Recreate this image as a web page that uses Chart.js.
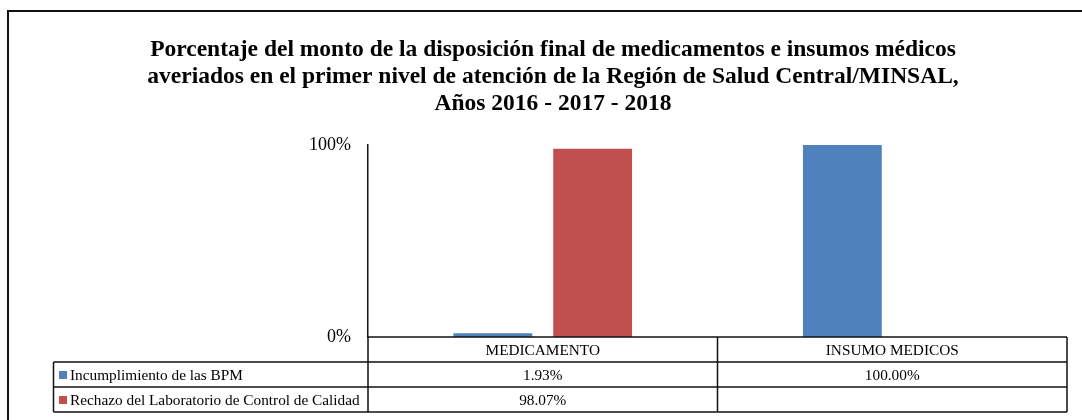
<!DOCTYPE html>
<html>
<head>
<meta charset="utf-8">
<script src="https://cdn.jsdelivr.net/npm/chart.js@4"></script>
<style>
  body { margin: 0; background: #fff; }
  #wrap { width: 1082px; height: 420px; position: relative; }
</style>
</head>
<body>
<div id="wrap"><canvas id="chart"></canvas></div>
<script>
// Data
const categories = ['MEDICAMENTO', 'INSUMO MEDICOS'];
const bpmValues = [1.93, 100.00];
const rechazoValues = [98.07, null];
const seriesNames = ['Incumplimiento de las BPM', 'Rechazo del Laboratorio de Control de Calidad'];
const yTickValues = [0, 100];
const titleLines = [
    'Porcentaje del monto de la disposición final de medicamentos e insumos médicos',
    'averiados en el primer nivel de atención de la Región de Salud Central/MINSAL,',
    'Años 2016 - 2017 - 2018'
];

const SERIF = "'Liberation Serif', 'DejaVu Serif', serif";

// white background + outer frame (right/bottom edges are cut off in the reference)
const framePlugin = {
    id: 'frame',
    beforeDraw(chart) {
        const ctx = chart.ctx;
        ctx.save();
        ctx.fillStyle = '#fff';
        ctx.fillRect(0, 0, chart.width, chart.height);
        ctx.strokeStyle = '#111';
        ctx.lineWidth = 2;
        ctx.beginPath();
        ctx.moveTo(8, chart.height);
        ctx.lineTo(8, 11);
        ctx.lineTo(chart.width, 11);
        ctx.stroke();
        ctx.restore();
    }
};

// Excel-style data table under the plot, laid out on the x scale
const dataTablePlugin = {
    id: 'dataTable',
    afterDraw(chart) {
        const ctx = chart.ctx;
        const x = chart.scales.x;
        const area = chart.chartArea;
        const rowH = 25;
        const legendLeft = 53.5;
        const top = area.bottom;
        const rows = chart.data.datasets.length;
        const bottom = top + rowH * (rows + 1);
        const colW = (x.right - x.left) / categories.length;

        ctx.save();
        ctx.strokeStyle = '#111';
        ctx.lineWidth = 1.5;
        ctx.beginPath();
        // header top line
        ctx.moveTo(x.left, top);
        ctx.lineTo(x.right, top);
        // row lines
        for (let r = 1; r <= rows + 1; r++) {
            ctx.moveTo(legendLeft, top + rowH * r);
            ctx.lineTo(x.right, top + rowH * r);
        }
        // column lines
        for (let c = 0; c <= categories.length; c++) {
            const cx = x.left + colW * c;
            ctx.moveTo(cx, top);
            ctx.lineTo(cx, bottom);
        }
        ctx.moveTo(legendLeft, top + rowH);
        ctx.lineTo(legendLeft, bottom);
        ctx.stroke();

        ctx.font = '15.3px ' + SERIF;
        ctx.fillStyle = '#000';
        ctx.textBaseline = 'middle';
        ctx.textAlign = 'center';
        chart.data.labels.forEach((lab, i) => {
            ctx.fillText(lab, x.getPixelForValue(i), top + rowH / 2 + 1);
        });

        chart.data.datasets.forEach((ds, r) => {
            const cy = top + rowH * (r + 1) + rowH / 2 + 1;
            ctx.fillStyle = ds.backgroundColor;
            ctx.fillRect(59, cy - 4.5, 8, 8);
            ctx.fillStyle = '#000';
            ctx.textAlign = 'left';
            ctx.fillText(ds.label, 70, cy);
            ctx.textAlign = 'center';
            ds.data.forEach((v, i) => {
                if (v === null) return;
                ctx.fillText(v.toFixed(2) + '%', x.getPixelForValue(i), cy);
            });
        });
        ctx.restore();
    }
};

new Chart(document.getElementById('chart'), {
    type: 'bar',
    data: {
        labels: categories,
        datasets: [{
            label: seriesNames[0],
            data: bpmValues,
            backgroundColor: '#4F81BD',
            barPercentage: 0.79,
            categoryPercentage: 0.571
        }, {
            label: seriesNames[1],
            data: rechazoValues,
            backgroundColor: '#C0504D',
            barPercentage: 0.79,
            categoryPercentage: 0.571
        }]
    },
    options: {
        responsive: true,
        maintainAspectRatio: false,
        animation: false,
        layout: {
            padding: { left: 39, right: 15, top: 0, bottom: 83 }
        },
        scales: {
            x: {
                display: false
            },
            y: {
                min: 0,
                max: 100,
                afterFit(scale) { scale.width = 329; },
                afterBuildTicks(scale) {
                    scale.ticks = yTickValues.map(v => ({ value: v }));
                },
                grid: { display: false, drawTicks: false },
                border: { display: true, color: '#111', width: 1.5 },
                ticks: {
                    padding: 17,
                    color: '#000',
                    font: { family: SERIF, size: 18 },
                    callback: v => v + '%'
                }
            }
        },
        plugins: {
            legend: { display: false },
            tooltip: { enabled: false },
            title: {
                display: true,
                text: titleLines,
                color: '#000',
                font: { family: SERIF, size: 23.5, weight: 'bold', lineHeight: 1.15 },
                padding: { top: 36, bottom: 28 }
            }
        }
    },
    plugins: [framePlugin, dataTablePlugin]
});
</script>
</body>
</html>
